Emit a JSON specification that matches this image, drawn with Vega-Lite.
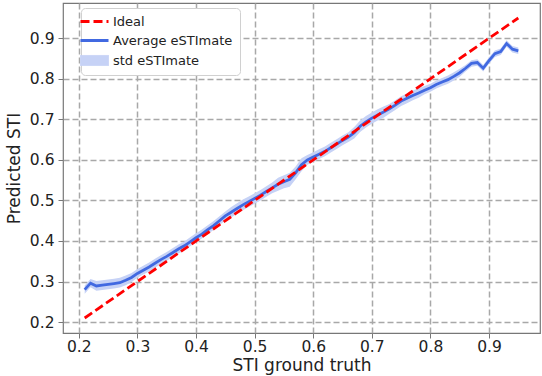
{
  "$schema": "https://vega.github.io/schema/vega-lite/v6.json",
  "width": 477,
  "height": 330,
  "autosize": {"type": "none"},
  "padding": {"left": 63, "top": 3, "right": 2, "bottom": 43},
  "background": "white",
  "config": {
    "font": "DejaVu Sans",
    "view": {"stroke": "#777", "strokeWidth": 1.2},
    "axis": {
      "grid": true,
      "gridColor": "#a8a8a8",
      "gridDash": [6, 3],
      "gridWidth": 1.5,
      "domain": false,
      "tickColor": "#777",
      "tickSize": 5,
      "tickWidth": 1,
      "labelFont": "DejaVu Sans",
      "labelFontSize": 15.5,
      "labelColor": "#222",
      "titleFont": "DejaVu Sans",
      "titleFontSize": 17,
      "titleFontWeight": "normal",
      "titleColor": "#222"
    }
  },
  "datasets": {
    "est": [
      {"x": 0.21, "avg": 0.280, "lo": 0.270, "hi": 0.290},
      {"x": 0.22, "avg": 0.296, "lo": 0.286, "hi": 0.306},
      {"x": 0.23, "avg": 0.289, "lo": 0.277, "hi": 0.301},
      {"x": 0.24, "avg": 0.291, "lo": 0.279, "hi": 0.303},
      {"x": 0.25, "avg": 0.293, "lo": 0.281, "hi": 0.305},
      {"x": 0.26, "avg": 0.295, "lo": 0.283, "hi": 0.307},
      {"x": 0.27, "avg": 0.297, "lo": 0.285, "hi": 0.309},
      {"x": 0.28, "avg": 0.303, "lo": 0.291, "hi": 0.315},
      {"x": 0.29, "avg": 0.310, "lo": 0.299, "hi": 0.321},
      {"x": 0.30, "avg": 0.320, "lo": 0.309, "hi": 0.331},
      {"x": 0.31, "avg": 0.328, "lo": 0.317, "hi": 0.339},
      {"x": 0.32, "avg": 0.336, "lo": 0.325, "hi": 0.347},
      {"x": 0.33, "avg": 0.345, "lo": 0.334, "hi": 0.356},
      {"x": 0.34, "avg": 0.354, "lo": 0.343, "hi": 0.365},
      {"x": 0.35, "avg": 0.362, "lo": 0.351, "hi": 0.373},
      {"x": 0.36, "avg": 0.371, "lo": 0.360, "hi": 0.382},
      {"x": 0.37, "avg": 0.380, "lo": 0.369, "hi": 0.391},
      {"x": 0.38, "avg": 0.388, "lo": 0.377, "hi": 0.399},
      {"x": 0.39, "avg": 0.398, "lo": 0.387, "hi": 0.409},
      {"x": 0.40, "avg": 0.408, "lo": 0.397, "hi": 0.419},
      {"x": 0.41, "avg": 0.417, "lo": 0.406, "hi": 0.428},
      {"x": 0.42, "avg": 0.428, "lo": 0.417, "hi": 0.439},
      {"x": 0.43, "avg": 0.438, "lo": 0.427, "hi": 0.449},
      {"x": 0.44, "avg": 0.450, "lo": 0.439, "hi": 0.461},
      {"x": 0.45, "avg": 0.462, "lo": 0.451, "hi": 0.473},
      {"x": 0.46, "avg": 0.471, "lo": 0.458, "hi": 0.484},
      {"x": 0.47, "avg": 0.480, "lo": 0.467, "hi": 0.493},
      {"x": 0.48, "avg": 0.489, "lo": 0.476, "hi": 0.502},
      {"x": 0.49, "avg": 0.497, "lo": 0.484, "hi": 0.510},
      {"x": 0.50, "avg": 0.505, "lo": 0.492, "hi": 0.518},
      {"x": 0.51, "avg": 0.513, "lo": 0.500, "hi": 0.526},
      {"x": 0.52, "avg": 0.522, "lo": 0.509, "hi": 0.535},
      {"x": 0.53, "avg": 0.531, "lo": 0.518, "hi": 0.544},
      {"x": 0.54, "avg": 0.540, "lo": 0.524, "hi": 0.556},
      {"x": 0.55, "avg": 0.546, "lo": 0.530, "hi": 0.562},
      {"x": 0.56, "avg": 0.552, "lo": 0.534, "hi": 0.568},
      {"x": 0.57, "avg": 0.568, "lo": 0.552, "hi": 0.584},
      {"x": 0.58, "avg": 0.588, "lo": 0.572, "hi": 0.604},
      {"x": 0.59, "avg": 0.600, "lo": 0.588, "hi": 0.612},
      {"x": 0.60, "avg": 0.607, "lo": 0.595, "hi": 0.619},
      {"x": 0.61, "avg": 0.614, "lo": 0.602, "hi": 0.626},
      {"x": 0.62, "avg": 0.621, "lo": 0.609, "hi": 0.633},
      {"x": 0.63, "avg": 0.630, "lo": 0.618, "hi": 0.642},
      {"x": 0.64, "avg": 0.639, "lo": 0.627, "hi": 0.651},
      {"x": 0.65, "avg": 0.648, "lo": 0.636, "hi": 0.660},
      {"x": 0.66, "avg": 0.656, "lo": 0.644, "hi": 0.668},
      {"x": 0.67, "avg": 0.667, "lo": 0.653, "hi": 0.681},
      {"x": 0.68, "avg": 0.683, "lo": 0.669, "hi": 0.697},
      {"x": 0.69, "avg": 0.694, "lo": 0.680, "hi": 0.708},
      {"x": 0.70, "avg": 0.703, "lo": 0.689, "hi": 0.717},
      {"x": 0.71, "avg": 0.711, "lo": 0.697, "hi": 0.725},
      {"x": 0.72, "avg": 0.718, "lo": 0.704, "hi": 0.732},
      {"x": 0.73, "avg": 0.726, "lo": 0.714, "hi": 0.738},
      {"x": 0.74, "avg": 0.735, "lo": 0.723, "hi": 0.747},
      {"x": 0.75, "avg": 0.745, "lo": 0.733, "hi": 0.757},
      {"x": 0.76, "avg": 0.752, "lo": 0.740, "hi": 0.764},
      {"x": 0.77, "avg": 0.759, "lo": 0.747, "hi": 0.771},
      {"x": 0.78, "avg": 0.765, "lo": 0.753, "hi": 0.777},
      {"x": 0.79, "avg": 0.772, "lo": 0.762, "hi": 0.782},
      {"x": 0.80, "avg": 0.778, "lo": 0.768, "hi": 0.788},
      {"x": 0.81, "avg": 0.786, "lo": 0.776, "hi": 0.796},
      {"x": 0.82, "avg": 0.792, "lo": 0.782, "hi": 0.802},
      {"x": 0.83, "avg": 0.798, "lo": 0.788, "hi": 0.808},
      {"x": 0.84, "avg": 0.806, "lo": 0.796, "hi": 0.816},
      {"x": 0.85, "avg": 0.815, "lo": 0.805, "hi": 0.825},
      {"x": 0.86, "avg": 0.826, "lo": 0.818, "hi": 0.834},
      {"x": 0.87, "avg": 0.838, "lo": 0.830, "hi": 0.846},
      {"x": 0.88, "avg": 0.840, "lo": 0.832, "hi": 0.848},
      {"x": 0.89, "avg": 0.826, "lo": 0.818, "hi": 0.834},
      {"x": 0.90, "avg": 0.845, "lo": 0.837, "hi": 0.853},
      {"x": 0.91, "avg": 0.862, "lo": 0.854, "hi": 0.870},
      {"x": 0.92, "avg": 0.867, "lo": 0.859, "hi": 0.875},
      {"x": 0.93, "avg": 0.887, "lo": 0.879, "hi": 0.895},
      {"x": 0.94, "avg": 0.873, "lo": 0.865, "hi": 0.881},
      {"x": 0.95, "avg": 0.869, "lo": 0.861, "hi": 0.877}
    ],
    "ideal": [
      {"x": 0.21, "y": 0.21},
      {"x": 0.95, "y": 0.95}
    ]
  },
  "layer": [
    {
      "data": {"name": "est"},
      "mark": {"type": "area", "fillOpacity": 1, "strokeWidth": 0},
      "encoding": {
        "x": {
          "field": "x", "type": "quantitative",
          "scale": {"domain": [0.173, 0.987], "nice": false, "zero": false},
          "axis": {"values": [0.2, 0.3, 0.4, 0.5, 0.6, 0.7, 0.8, 0.9], "format": ".1f", "title": "STI ground truth", "labelPadding": 1, "titlePadding": 3}
        },
        "y": {
          "field": "lo", "type": "quantitative",
          "scale": {"domain": [0.173, 0.987], "nice": false, "zero": false},
          "axis": {"values": [0.2, 0.3, 0.4, 0.5, 0.6, 0.7, 0.8, 0.9], "format": ".1f", "title": "Predicted STI", "labelPadding": 4, "titlePadding": 6}
        },
        "y2": {"field": "hi"},
        "color": {
          "datum": "std eSTImate",
          "type": "nominal",
          "scale": {"domain": ["Ideal", "Average eSTImate", "std eSTImate"], "range": ["#ff0000", "#4169e1", "#c6d2f6"]},
          "legend": {
            "title": null,
            "orient": "none",
            "legendX": 18,
            "legendY": 5,
            "padding": 7,
            "fillColor": "white",
            "strokeColor": "#d0d0d0",
            "cornerRadius": 4,
            "labelFont": "DejaVu Sans",
            "labelFontSize": 13,
            "labelColor": "#222",
            "labelOffset": 12,
            "rowPadding": 5,
            "symbolSize": 784,
            "symbolType": "stroke",
            "encode": {
              "symbols": {
                "update": {
                  "shape": {"signal": "datum.value === 'std eSTImate' ? 'M-1,-0.36L1,-0.36L1,0.36L-1,0.36Z' : 'stroke'"},
                  "size": {"value": 784},
                  "fill": {"signal": "datum.value === 'std eSTImate' ? '#c6d2f6' : 'transparent'"},
                  "stroke": {"signal": "datum.value === 'Ideal' ? '#ff0000' : (datum.value === 'Average eSTImate' ? '#4169e1' : '#aebff2')"},
                  "strokeWidth": {"signal": "datum.value === 'std eSTImate' ? 1 : 2.8"},
                  "strokeDash": {"signal": "datum.value === 'Ideal' ? [9, 4] : [1, 0]"},
                  "opacity": {"value": 1},
                  "fillOpacity": {"value": 1},
                  "strokeOpacity": {"value": 1}
                }
              }
            }
          }
        }
      }
    },
    {
      "data": {"name": "est"},
      "mark": {"type": "line", "strokeWidth": 2.8},
      "encoding": {
        "x": {"field": "x", "type": "quantitative"},
        "y": {"field": "avg", "type": "quantitative"},
        "color": {"datum": "Average eSTImate", "type": "nominal"}
      }
    },
    {
      "data": {"name": "ideal"},
      "mark": {"type": "line", "strokeWidth": 2.8, "strokeDash": [9, 4]},
      "encoding": {
        "x": {"field": "x", "type": "quantitative"},
        "y": {"field": "y", "type": "quantitative"},
        "color": {"datum": "Ideal", "type": "nominal"}
      }
    }
  ]
}
